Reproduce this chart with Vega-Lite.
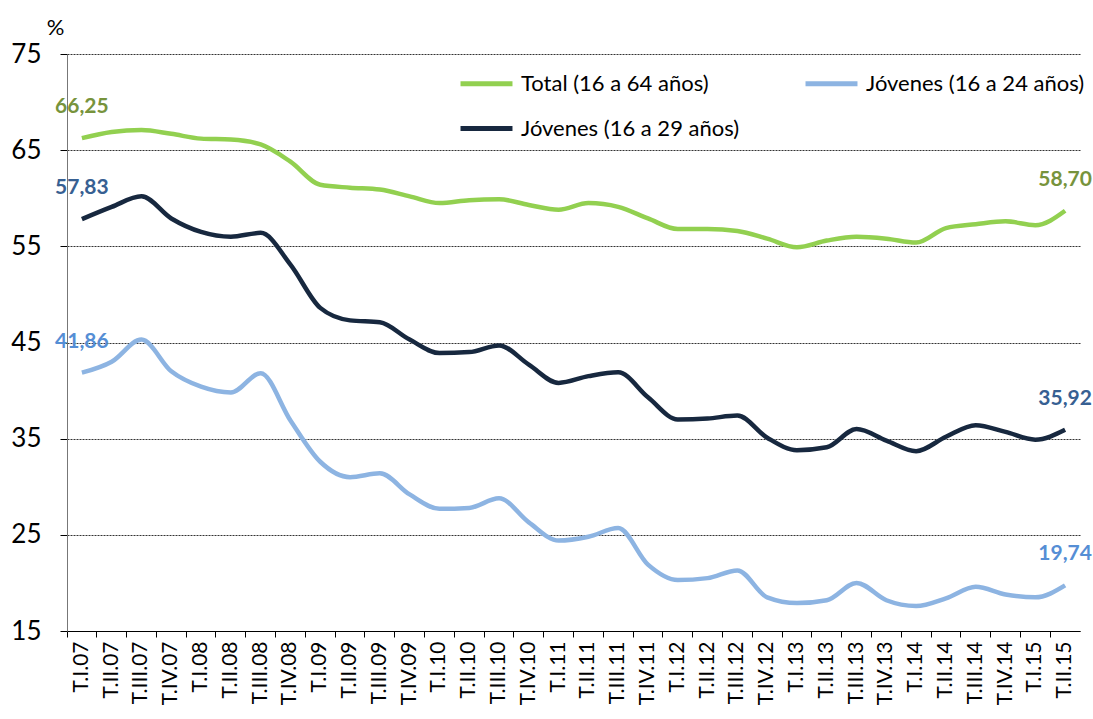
{
  "$schema": "https://vega.github.io/schema/vega-lite/v6.json",
  "autosize": {"type": "none"},
  "width": 1013,
  "height": 577,
  "padding": {"left": 67, "top": 54, "right": 13, "bottom": 88},
  "background": "white",
  "config": {
    "font": "Lato",
    "view": {"stroke": null},
    "locale": {"number": {"decimal": ",", "thousands": ".", "grouping": [3], "currency": ["", " €"]}}
  },
  "data": {
    "values": [
      {"q": "T.I.07", "Total (16 a 64 años)": 66.25, "Jóvenes (16 a 24 años)": 41.86, "Jóvenes (16 a 29 años)": 57.83},
      {"q": "T.II.07", "Total (16 a 64 años)": 66.9, "Jóvenes (16 a 24 años)": 43.0, "Jóvenes (16 a 29 años)": 59.1},
      {"q": "T.III.07", "Total (16 a 64 años)": 67.1, "Jóvenes (16 a 24 años)": 45.3, "Jóvenes (16 a 29 años)": 60.2},
      {"q": "T.IV.07", "Total (16 a 64 años)": 66.7, "Jóvenes (16 a 24 años)": 42.0, "Jóvenes (16 a 29 años)": 57.9},
      {"q": "T.I.08", "Total (16 a 64 años)": 66.2, "Jóvenes (16 a 24 años)": 40.4, "Jóvenes (16 a 29 años)": 56.5},
      {"q": "T.II.08", "Total (16 a 64 años)": 66.1, "Jóvenes (16 a 24 años)": 39.8, "Jóvenes (16 a 29 años)": 56.0},
      {"q": "T.III.08", "Total (16 a 64 años)": 65.6, "Jóvenes (16 a 24 años)": 41.8, "Jóvenes (16 a 29 años)": 56.4},
      {"q": "T.IV.08", "Total (16 a 64 años)": 63.8, "Jóvenes (16 a 24 años)": 36.9, "Jóvenes (16 a 29 años)": 53.1},
      {"q": "T.I.09", "Total (16 a 64 años)": 61.4, "Jóvenes (16 a 24 años)": 32.6, "Jóvenes (16 a 29 años)": 48.6},
      {"q": "T.II.09", "Total (16 a 64 años)": 61.1, "Jóvenes (16 a 24 años)": 31.0, "Jóvenes (16 a 29 años)": 47.3},
      {"q": "T.III.09", "Total (16 a 64 años)": 60.9, "Jóvenes (16 a 24 años)": 31.4, "Jóvenes (16 a 29 años)": 47.1},
      {"q": "T.IV.09", "Total (16 a 64 años)": 60.2, "Jóvenes (16 a 24 años)": 29.2, "Jóvenes (16 a 29 años)": 45.3},
      {"q": "T.I.10", "Total (16 a 64 años)": 59.5, "Jóvenes (16 a 24 años)": 27.7, "Jóvenes (16 a 29 años)": 43.9},
      {"q": "T.II.10", "Total (16 a 64 años)": 59.8, "Jóvenes (16 a 24 años)": 27.8, "Jóvenes (16 a 29 años)": 44.0},
      {"q": "T.III.10", "Total (16 a 64 años)": 59.9, "Jóvenes (16 a 24 años)": 28.8, "Jóvenes (16 a 29 años)": 44.7},
      {"q": "T.IV.10", "Total (16 a 64 años)": 59.3, "Jóvenes (16 a 24 años)": 26.3, "Jóvenes (16 a 29 años)": 42.7},
      {"q": "T.I.11", "Total (16 a 64 años)": 58.8, "Jóvenes (16 a 24 años)": 24.4, "Jóvenes (16 a 29 años)": 40.8},
      {"q": "T.II.11", "Total (16 a 64 años)": 59.5, "Jóvenes (16 a 24 años)": 24.8, "Jóvenes (16 a 29 años)": 41.5},
      {"q": "T.III.11", "Total (16 a 64 años)": 59.1, "Jóvenes (16 a 24 años)": 25.7, "Jóvenes (16 a 29 años)": 41.9},
      {"q": "T.IV.11", "Total (16 a 64 años)": 57.9, "Jóvenes (16 a 24 años)": 21.9, "Jóvenes (16 a 29 años)": 39.3},
      {"q": "T.I.12", "Total (16 a 64 años)": 56.8, "Jóvenes (16 a 24 años)": 20.3, "Jóvenes (16 a 29 años)": 37.0},
      {"q": "T.II.12", "Total (16 a 64 años)": 56.8, "Jóvenes (16 a 24 años)": 20.5, "Jóvenes (16 a 29 años)": 37.1},
      {"q": "T.III.12", "Total (16 a 64 años)": 56.6, "Jóvenes (16 a 24 años)": 21.3, "Jóvenes (16 a 29 años)": 37.4},
      {"q": "T.IV.12", "Total (16 a 64 años)": 55.8, "Jóvenes (16 a 24 años)": 18.5, "Jóvenes (16 a 29 años)": 35.1},
      {"q": "T.I.13", "Total (16 a 64 años)": 54.9, "Jóvenes (16 a 24 años)": 17.9, "Jóvenes (16 a 29 años)": 33.8},
      {"q": "T.II.13", "Total (16 a 64 años)": 55.6, "Jóvenes (16 a 24 años)": 18.2, "Jóvenes (16 a 29 años)": 34.1},
      {"q": "T.III.13", "Total (16 a 64 años)": 56.0, "Jóvenes (16 a 24 años)": 20.0, "Jóvenes (16 a 29 años)": 36.0},
      {"q": "T.IV.13", "Total (16 a 64 años)": 55.8, "Jóvenes (16 a 24 años)": 18.2, "Jóvenes (16 a 29 años)": 34.8},
      {"q": "T.I.14", "Total (16 a 64 años)": 55.4, "Jóvenes (16 a 24 años)": 17.6, "Jóvenes (16 a 29 años)": 33.7},
      {"q": "T.II.14", "Total (16 a 64 años)": 56.9, "Jóvenes (16 a 24 años)": 18.4, "Jóvenes (16 a 29 años)": 35.2},
      {"q": "T.III.14", "Total (16 a 64 años)": 57.3, "Jóvenes (16 a 24 años)": 19.6, "Jóvenes (16 a 29 años)": 36.4},
      {"q": "T.IV.14", "Total (16 a 64 años)": 57.6, "Jóvenes (16 a 24 años)": 18.8, "Jóvenes (16 a 29 años)": 35.7},
      {"q": "T.I.15", "Total (16 a 64 años)": 57.2, "Jóvenes (16 a 24 años)": 18.5, "Jóvenes (16 a 29 años)": 34.9},
      {"q": "T.II.15", "Total (16 a 64 años)": 58.70, "Jóvenes (16 a 24 años)": 19.74, "Jóvenes (16 a 29 años)": 35.92}
    ]
  },
  "transform": [
    {"fold": ["Total (16 a 64 años)", "Jóvenes (16 a 24 años)", "Jóvenes (16 a 29 años)"], "as": ["serie", "valor"]}
  ],
  "encoding": {
    "x": {
      "field": "q", "type": "ordinal", "sort": null,
      "scale": {"type": "band", "paddingInner": 0, "paddingOuter": 0},
      "axis": {
        "title": null, "labelAngle": -90, "labelFontSize": 21, "labelColor": "#000",
        "bandPosition": 0, "tickSize": 6, "tickColor": "#000", "domainColor": "#000",
        "labelPadding": 4, "grid": false
      }
    },
    "y": {
      "field": "valor", "type": "quantitative",
      "scale": {"domain": [15, 75], "nice": false, "zero": false},
      "axis": {
        "values": [15, 25, 35, 45, 55, 65, 75], "title": "%", "titleAngle": 0,
        "titleX": -12, "titleY": -27, "titleAlign": "center", "titleBaseline": "middle",
        "titleFontSize": 22, "titleFontWeight": "normal", "titleColor": "#000",
        "labelFontSize": 26, "labelColor": "#000", "labelPadding": 19,
        "tickSize": 7, "tickColor": "#000", "domainColor": "#777",
        "grid": true, "gridColor": "#333", "gridDash": [2, 1], "gridWidth": 1
      }
    }
  },
  "layer": [
    {
      "mark": {"type": "line", "interpolate": "monotone", "strokeWidth": 4.5},
      "encoding": {
        "color": {
          "field": "serie", "type": "nominal",
          "scale": {
            "domain": ["Total (16 a 64 años)", "Jóvenes (16 a 24 años)", "Jóvenes (16 a 29 años)"],
            "range": ["#92D050", "#8DB4E2", "#17283F"]
          },
          "legend": {
            "title": null, "orient": "none", "legendX": 391, "legendY": 1,
            "direction": "horizontal", "columns": 2, "symbolType": "stroke",
            "symbolSize": 2700, "symbolStrokeWidth": 5, "labelFontSize": 22,
            "labelColor": "#000", "labelLimit": 400, "columnPadding": 55,
            "rowPadding": 5, "labelOffset": 6
          }
        }
      }
    },
    {
      "transform": [{"filter": "datum.q == 'T.I.07' || datum.q == 'T.II.15'"}],
      "mark": {"type": "text", "dy": -31, "fontSize": 21, "fontWeight": "bold"},
      "encoding": {
        "text": {"field": "valor", "type": "quantitative", "format": ".2f"},
        "color": {
          "field": "serie", "type": "nominal",
          "scale": {
            "domain": ["Total (16 a 64 años)", "Jóvenes (16 a 24 años)", "Jóvenes (16 a 29 años)"],
            "range": ["#77933C", "#558ED5", "#376092"]
          },
          "legend": null
        }
      }
    }
  ],
  "resolve": {"scale": {"color": "independent"}}
}
